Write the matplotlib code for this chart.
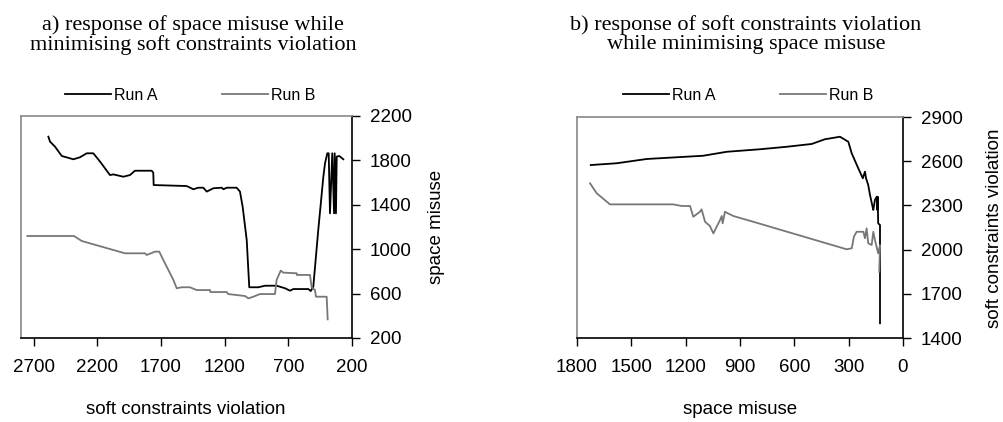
import numpy as np
import matplotlib
matplotlib.use('Agg')
from matplotlib import pyplot as plt

# a) space misuse vs soft constraints violation
a_runA_x = [2585, 2572, 2533, 2480, 2389, 2337, 2284, 2232, 2179, 2101, 2075, 1996, 1944, 1905,
            1773, 1761, 1758, 1498, 1446, 1407, 1368, 1341, 1289, 1223, 1210, 1184, 1106, 1080,
            1059, 1027, 1007, 936, 883, 792, 726, 687, 661, 543, 524, 504, 465, 425, 412, 394,
            383, 373, 355, 341, 336, 326, 320, 300, 268]
a_runA_y = [2014, 1969, 1924, 1840, 1810, 1828, 1864, 1864, 1789, 1668, 1674, 1653, 1668, 1707,
            1707, 1690, 1578, 1569, 1540, 1554, 1554, 1519, 1549, 1554, 1540, 1554, 1554, 1519,
            1383, 1083, 657, 657, 671, 671, 648, 626, 641, 641, 623, 662, 1173, 1653, 1774, 1864,
            1864, 1323, 1864, 1323, 1864, 1323, 1834, 1840, 1810]
a_runB_x = [2750, 2384, 2323, 1983, 1826, 1813, 1747, 1714, 1682, 1603, 1577, 1538, 1473, 1420,
            1315, 1313, 1184, 1172, 1040, 1014, 975, 923, 805, 792, 760, 740, 634, 633, 530,
            517, 491, 483, 399, 391]
a_runB_y = [1119, 1119, 1074, 963, 963, 948, 978, 978, 903, 723, 648, 657, 657, 632,
            632, 614, 614, 596, 578, 557, 572, 596, 596, 723, 807, 789, 783, 768, 768,
            657, 632, 572, 572, 368]

# b) soft constraints violation vs space misuse
b_runA_x = [1724, 1581, 1415, 1103, 973, 790, 642, 504, 431, 348, 302, 283, 247, 222, 210, 204,
            192, 182, 168, 164, 155, 145, 142, 140, 137, 127, 127]
b_runA_y = [2574, 2586, 2615, 2637, 2664, 2681, 2698, 2717, 2749, 2766, 2732, 2653, 2552, 2484,
            2529, 2484, 2438, 2370, 2291, 2269, 2337, 2359, 2269, 2359, 2178, 2167, 1500]
b_runB_x = [1728, 1691, 1618, 1268, 1222, 1176, 1158, 1121, 1112, 1093, 1066, 1047, 1029, 1010,
            1001, 996, 983, 973, 937, 827, 311, 283, 271, 256, 219, 210, 201, 192, 173, 164,
            155, 137, 127, 131]
b_runB_y = [2450, 2382, 2307, 2307, 2296, 2296, 2223, 2257, 2273, 2189, 2160, 2110, 2155, 2201,
            2228, 2178, 2257, 2250, 2228, 2189, 2002, 2009, 2088, 2121, 2121, 2077, 2144, 2043,
            2031, 2121, 2065, 1975, 2031, 1850]

a_xticks = [2700, 2200, 1700, 1200, 700, 200]
a_yticks = [200, 600, 1000, 1400, 1800, 2200]
b_xticks = [1800, 1500, 1200, 900, 600, 300, 0]
b_yticks = [1400, 1700, 2000, 2300, 2600, 2900]

W, H = 1004, 422
fig = plt.figure(figsize=(W / 100, H / 100), dpi=100)
plt.rcParams['font.family'] = 'Liberation Sans'

ax1 = fig.add_axes([21 / W, 1 - 338 / H, 331 / W, 222 / H])
ax2 = fig.add_axes([577 / W, 1 - 338 / H, 326 / W, 221 / H])

black = '#000000'
grey = '#777777'


def style(ax, xlim, ylim, xt, yt):
    ax.set_xlim(*xlim)
    ax.set_ylim(*ylim)
    ax.set_xticks(xt)
    ax.set_yticks(yt)
    ax.yaxis.tick_right()
    ax.tick_params(direction='out', length=6, width=1, labelsize=13.5, colors='black')
    ax.tick_params(axis='x', pad=9)
    ax.tick_params(axis='y', pad=7)
    for s in ['top', 'left']:
        ax.spines[s].set_color('#888888')
        ax.spines[s].set_linewidth(1.2)
    for s in ['right', 'bottom']:
        ax.spines[s].set_color('black')
        ax.spines[s].set_linewidth(1.2)


ax1.plot(a_runA_x, a_runA_y, color=black, lw=1.3, label='Run A')
ax1.plot(a_runB_x, a_runB_y, color=grey, lw=1.3, label='Run B')
style(ax1, (2800, 200), (200, 2200), a_xticks, a_yticks)

ax2.plot(b_runA_x, b_runA_y, color=black, lw=1.3, label='Run A')
ax2.plot(b_runB_x, b_runB_y, color=grey, lw=1.3, label='Run B')
style(ax2, (1800, 0), (1400, 2900), b_xticks, b_yticks)

for ax, cx in [(ax1, 190), (ax2, 748)]:
    ax.legend(loc='center', bbox_to_anchor=(cx / W, 1 - 95 / H), bbox_transform=fig.transFigure,
              ncol=2, frameon=False, fontsize=11.5, handlelength=2.9, handletextpad=0.2,
              columnspacing=4.0)

# axis titles
fig.text(186 / W, 1 - 410 / H, 'soft constraints violation', ha='center', va='center', fontsize=13.5)
fig.text(740 / W, 1 - 410 / H, 'space misuse', ha='center', va='center', fontsize=13.5)
fig.text(437 / W, 1 - 227 / H, 'space misuse', ha='center', va='center', rotation=90, fontsize=13.5)
fig.text(995 / W, 1 - 228 / H, 'soft constraints violation', ha='center', va='center', rotation=90,
         fontsize=13.5)

fig.text(193 / W, 1 - 35 / H, 'a) response of space misuse while\nminimising soft constraints violation',
         ha='center', va='center', family='Liberation Serif', fontsize=16, linespacing=1.0)
fig.text(746 / W, 1 - 35 / H, 'b) response of soft constraints violation\nwhile minimising space misuse',
         ha='center', va='center', family='Liberation Serif', fontsize=16, linespacing=1.0)

fig.savefig('out.png', dpi=100)
